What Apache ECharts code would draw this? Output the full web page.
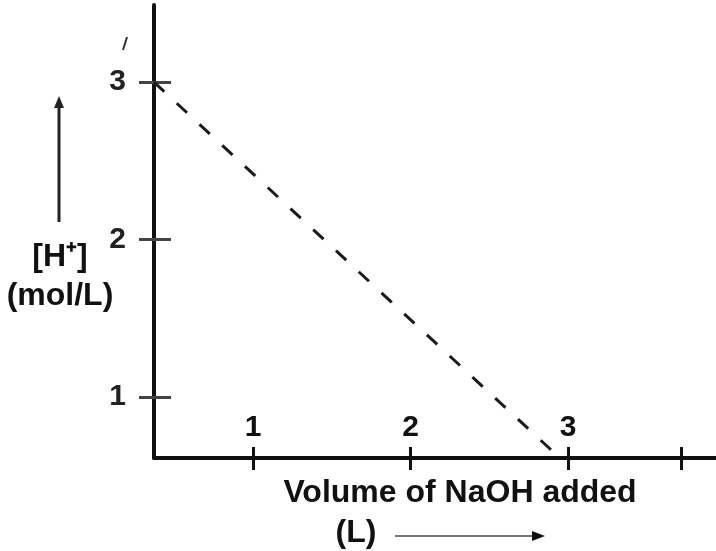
<!DOCTYPE html>
<html>
<head>
<meta charset="utf-8">
<script src="https://cdn.jsdelivr.net/npm/echarts@6/dist/echarts.min.js"></script>
<style>
html,body{margin:0;padding:0;background:#fff;}
#chart{width:716px;height:551px;}
</style>
</head>
<body>
<div id="chart"></div>
<script>
// ---- data ----
const xRange = [0.37, 3.94];          // visible extent of the x axis
const yRange = [0.614, 3.49];         // visible extent of the y axis
const xTickValues = [1, 2, 3, 3.72];  // tick marks on the x axis
const xLabelValues = [1, 2, 3];       // labelled x ticks
const yTickValues = [1, 2, 3];        // tick marks / labels on the y axis
const lineX = [0.37, 2.92];           // dashed line: volume of NaOH (L)
const lineY = [3.00, 0.64];           // dashed line: [H+] (mol/L)

const FONT = '"Liberation Sans", Arial, sans-serif';
const INK = '#111';

const chart = echarts.init(document.getElementById('chart'), null, {renderer: 'canvas'});

function xAxisCfg(inside, withLine, withLabel, len) {
  return {
    type: 'value', position: 'bottom', min: xRange[0], max: xRange[1],
    axisLine: {show: withLine, lineStyle: {color: INK, width: 4}},
    axisTick: {show: true, inside: inside, length: len, customValues: xTickValues,
               lineStyle: {color: INK, width: 3}},
    axisLabel: {show: withLabel, inside: true, margin: 15, customValues: xLabelValues,
                color: INK, fontSize: 30, fontWeight: 'bold', fontFamily: FONT},
    splitLine: {show: false}
  };
}
function yAxisCfg(inside, withLine, withLabel, len) {
  return {
    type: 'value', position: 'left', min: yRange[0], max: yRange[1],
    axisLine: {show: withLine, lineStyle: {color: INK, width: 4}},
    axisTick: {show: true, inside: inside, length: len, customValues: yTickValues,
               lineStyle: {color: '#444', width: 3}},
    axisLabel: {show: withLabel, margin: 28, customValues: yTickValues,
                color: '#222', fontSize: 30, fontWeight: 'bold', fontFamily: FONT},
    splitLine: {show: false}
  };
}

const option = {
  backgroundColor: '#fff',
  animation: false,
  grid: {left: 154, right: 0, top: 5, bottom: 93, containLabel: false},
  xAxis: [xAxisCfg(true, true, true, 11), xAxisCfg(false, false, false, 12)],
  yAxis: [yAxisCfg(false, true, true, 15), yAxisCfg(true, false, false, 17)],
  series: [{
    type: 'line', xAxisIndex: 0, yAxisIndex: 0,
    data: lineX.map((x, i) => [x, lineY[i]]),
    showSymbol: false, symbol: 'none',
    lineStyle: {color: '#1a1a1a', width: 3, type: [14, 17]}
  }],
  graphic: [
    {type: 'line', shape: {x1: 59, y1: 222, x2: 59, y2: 104}, style: {stroke: '#222', lineWidth: 3}},
    {type: 'polygon', shape: {points: [[59, 96], [54, 108], [64, 108]]}, style: {fill: '#222'}},
    {type: 'text', x: 60, y: 257, style: {text: '[H⁺]', font: 'bold 32px ' + FONT, fill: '#111', align: 'center', verticalAlign: 'middle'}},
    {type: 'text', x: 60, y: 296, style: {text: '(mol/L)', font: 'bold 32px ' + FONT, fill: '#111', align: 'center', verticalAlign: 'middle'}},
    {type: 'text', x: 460, y: 493, style: {text: 'Volume of NaOH added', font: 'bold 32px ' + FONT, fill: '#111', align: 'center', verticalAlign: 'middle'}},
    {type: 'text', x: 356, y: 533, style: {text: '(L)', font: 'bold 32px ' + FONT, fill: '#111', align: 'center', verticalAlign: 'middle'}},
    {type: 'line', shape: {x1: 395, y1: 536, x2: 534, y2: 536}, style: {stroke: '#777', lineWidth: 2}},
    {type: 'polygon', shape: {points: [[545, 536], [532, 531], [532, 541]]}, style: {fill: '#111'}},
    {type: 'line', shape: {x1: 123, y1: 50, x2: 127, y2: 37}, style: {stroke: '#333', lineWidth: 2}}
  ]
};
chart.setOption(option);
</script>
</body>
</html>
